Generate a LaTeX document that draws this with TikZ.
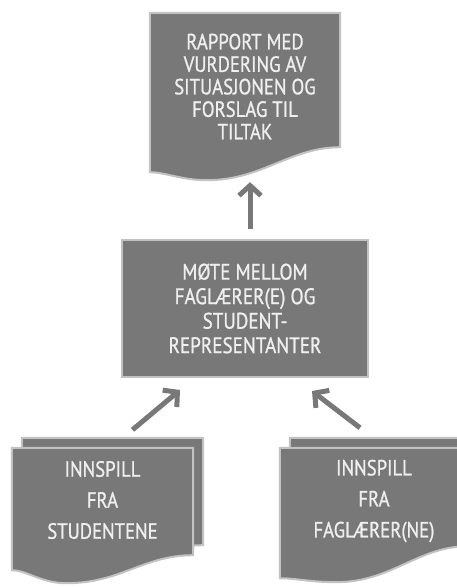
\documentclass[tikz,border=0pt]{standalone}
\usepackage{fontspec}
\setmainfont{PT Sans}[FakeStretch=0.85, FakeBold=0.9]
\usetikzlibrary{calc,arrows.meta,backgrounds}

\definecolor{sheetgray}{HTML}{787878}
\definecolor{edgegray}{HTML}{C2C2C2}
\definecolor{inkwhite}{HTML}{EFEFEF}

\tikzset{
  sheet/.style={fill=sheetgray, draw=edgegray, line width=2pt},
  doctext/.style={text=inkwhite, align=center, inner sep=0pt},
  flow/.style={draw=sheetgray, line width=5pt, -{Straight Barb[length=10pt,width=22pt]}}
}

% document sheet with wavy bottom: node, right end, trough, left end
\newcommand{\docsheet}[4]{
  \path[sheet] (#1.north west) -- (#1.north east) -- ([yshift=#2]#1.south east)
    .. controls +(-50,0) and +(55,0) .. ([yshift=#3]$(#1.south west)!0.3!(#1.south east)$)
    .. controls +(-25,0) and +(15,0) .. ([yshift=#4]#1.south west) -- cycle;
}

\begin{document}
\begin{tikzpicture}[x=1pt,y=-1pt]
  \useasboundingbox (0,0) rectangle (457,587);

  \node[doctext, minimum width=190pt, minimum height=147pt,
        font=\fontsize{22}{22.5}\selectfont] (report) at (245,86.5)
        {RAPPORT MED\\VURDERING AV\\SITUASJONEN OG\\FORSLAG TIL\\TILTAK};
  \node[sheet, doctext, minimum width=246pt, minimum height=137pt,
        font=\fontsize{22.5}{24.5}\selectfont] (meeting) at (245,308.5)
        {MØTE MELLOM\\FAGLÆRER(E) OG\\STUDENT-\\REPRESENTANTER};
  \node[doctext, minimum width=181pt, minimum height=104pt,
        font=\fontsize{22}{31}\selectfont] (students) at (102.5,500)
        {INNSPILL\\FRA\\STUDENTENE};
  \node[doctext, minimum width=188pt, minimum height=106pt,
        font=\fontsize{22}{31}\selectfont] (teachers) at (374,501)
        {INNSPILL\\FRA\\FAGLÆRER(NE)};

  \begin{scope}[on background layer]
    % sheets behind
    \begin{scope}[transform canvas={xshift=10pt,yshift=10pt}]
      \docsheet{students}{-3pt}{-31pt}{-18pt}
      \docsheet{teachers}{8pt}{-28pt}{-24pt}
    \end{scope}
    \docsheet{report}{13pt}{-20pt}{-12pt}
    \docsheet{students}{-3pt}{-31pt}{-18pt}
    \docsheet{teachers}{8pt}{-28pt}{-24pt}
  \end{scope}

  \draw[flow] ([xshift=5pt,yshift=10pt]meeting.north) -- ([xshift=5pt,yshift=-22pt]report.south);
  \draw[flow] ([xshift=30pt,yshift=18pt]students.north) -- ([xshift=-65pt,yshift=-12pt]meeting.south);
  \draw[flow] ([xshift=-14pt,yshift=20pt]teachers.north) -- ([xshift=67pt,yshift=-13pt]meeting.south);
\end{tikzpicture}
\end{document}
